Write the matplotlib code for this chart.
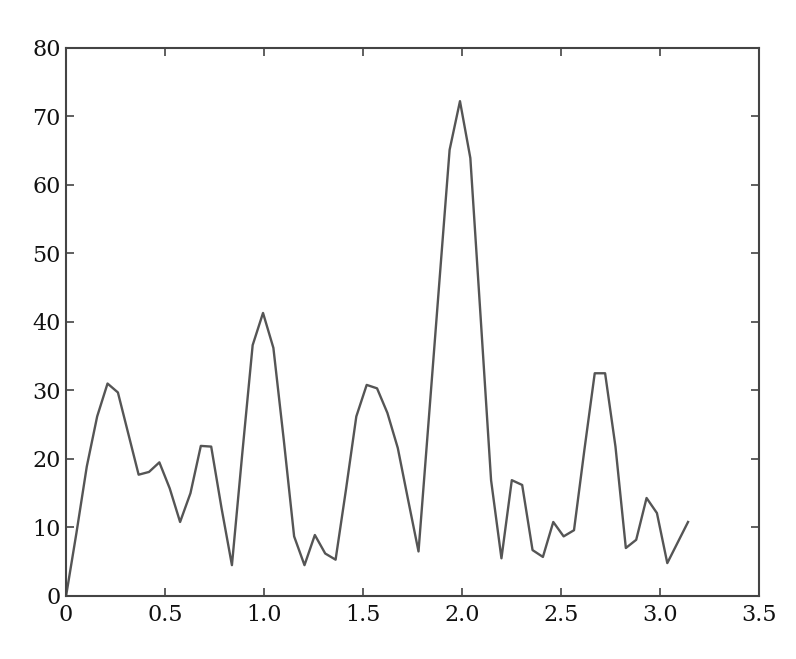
import numpy as np
import matplotlib
matplotlib.use("Agg")
import matplotlib.pyplot as plt

# sample index k -> x = k*pi/60 (61 evenly spaced samples on [0, pi])
n_samples = 61
x_end = np.pi
values = [0.0, 9.2, 18.9, 26.2, 31.0, 29.7, 23.7, 17.7, 18.1, 19.5,
          15.7, 10.8, 15.0, 21.9, 21.8, 12.8, 4.5, 20.8, 36.6, 41.3,
          36.2, 22.8, 8.7, 4.5, 8.9, 6.2, 5.3, 15.5, 26.2, 30.8,
          30.3, 26.7, 21.6, 14.0, 6.5, 26.0, 45.6, 65.1, 72.2, 63.9,
          40.5, 16.9, 5.5, 16.9, 16.2, 6.7, 5.7, 10.8, 8.7, 9.6,
          21.3, 32.5, 32.5, 21.8, 7.0, 8.2, 14.3, 12.1, 4.8, 7.8,
          10.8]
x = np.linspace(0, x_end, n_samples)

xticks = [0, 0.5, 1.0, 1.5, 2.0, 2.5, 3.0, 3.5]
xticklabels = ["0", "0.5", "1.0", "1.5", "2.0", "2.5", "3.0", "3.5"]
yticks = [0, 10, 20, 30, 40, 50, 60, 70, 80]
yticklabels = ["0", "10", "20", "30", "40", "50", "60", "70", "80"]

fig = plt.figure(figsize=(7.96, 6.59), dpi=100)
ax = fig.add_axes([0.083, 0.0956, 0.8705, 0.832])
ax.plot(x, values, color="#555555", linewidth=1.7)
ax.set_xlim(0, 3.5)
ax.set_ylim(0, 80)
ax.set_xticks(xticks)
ax.set_xticklabels(xticklabels)
ax.set_yticks(yticks)
ax.set_yticklabels(yticklabels)
for lab in ax.get_xticklabels() + ax.get_yticklabels():
    lab.set_family("DejaVu Serif")
    lab.set_fontsize(16)
    lab.set_color("#111111")
ax.tick_params(direction="in", top=True, right=True, length=6, width=1.2,
               color="#444444")
ax.tick_params(axis="x", pad=6)
ax.tick_params(axis="y", pad=4)
for s in ax.spines.values():
    s.set_color("#444444")
    s.set_linewidth(1.5)
fig.savefig("out.png", dpi=100)
